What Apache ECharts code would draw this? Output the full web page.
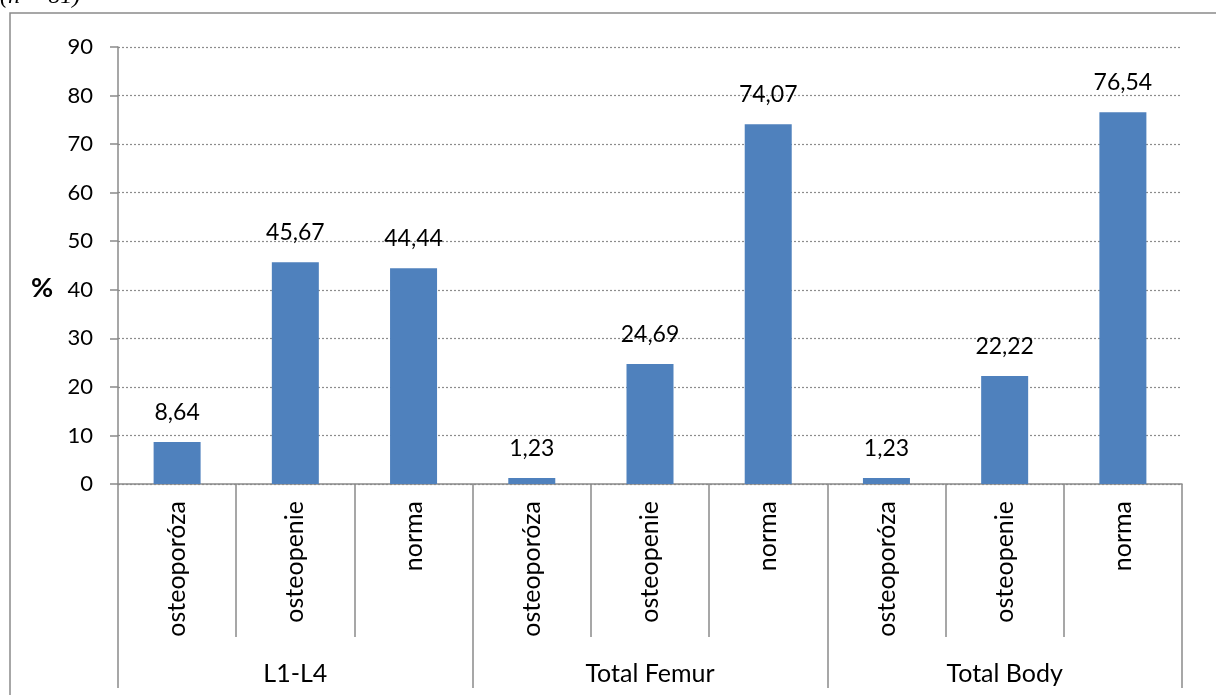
<!DOCTYPE html>
<html>
<head>
<meta charset="utf-8">
<style>
  html, body { margin: 0; padding: 0; background: #fff; }
  #chart { width: 1216px; height: 695px; }
</style>
<script src="https://cdn.jsdelivr.net/npm/echarts@6/dist/echarts.min.js"></script>
</head>
<body>
<div id="chart"></div>
<script>
// Bone density classification by measurement site (n = 81)
const groups = ['L1-L4', 'Total Femur', 'Total Body'];
const classes = ['osteoporóza', 'osteopenie', 'norma'];
const percentL1L4 = [8.64, 45.67, 44.44];
const percentFemur = [1.23, 24.69, 74.07];
const percentBody = [1.23, 22.22, 76.54];
const yTicks = [0, 10, 20, 30, 40, 50, 60, 70, 80, 90];

const subCategories = [];
groups.forEach(() => classes.forEach(c => subCategories.push(c)));
const values = [].concat(percentL1L4, percentFemur, percentBody);

const FONT = 'Lato, "Open Sans", sans-serif';
const AXIS_GREY = '#8a8a8a';

const chart = echarts.init(document.getElementById('chart'), null, { renderer: 'canvas' });

chart.setOption({
  animation: false,
  backgroundColor: '#fff',
  textStyle: { fontFamily: FONT },
  grid: { left: 118, right: 34, top: 47, bottom: 211, containLabel: false },
  graphic: [
    {
      type: 'rect',
      shape: { x: 10, y: 13, width: 1240, height: 720 },
      style: { fill: 'none', stroke: AXIS_GREY, lineWidth: 1.5 },
      silent: true
    },
    {
      // caption line above the frame, mostly clipped by the page top
      type: 'text',
      x: 0, y: -15,
      style: {
        text: '(n = 81)', font: 'italic 24px "Liberation Serif", serif', fill: '#000',
        align: 'left', verticalAlign: 'top'
      }
    },
    {
      type: 'text',
      x: 42, y: 288,
      style: { text: '%', font: 'bold 27px ' + FONT, fill: '#000', align: 'center', verticalAlign: 'middle' }
    }
  ],
  xAxis: [
    {
      type: 'category',
      data: subCategories,
      position: 'bottom',
      offset: 0,
      boundaryGap: true,
      axisLine: { show: true, lineStyle: { color: AXIS_GREY, width: 1.5 } },
      axisTick: { show: true, interval: 0, length: 153, lineStyle: { color: AXIS_GREY, width: 1.5 } },
      axisLabel: { interval: 0, rotate: 90, margin: 17, fontSize: 25, color: '#000', fontFamily: FONT },
      splitLine: { show: false }
    },
    {
      type: 'category',
      data: groups,
      position: 'bottom',
      offset: 0,
      boundaryGap: true,
      axisLine: { show: false },
      axisTick: { show: true, interval: 0, length: 204, lineStyle: { color: AXIS_GREY, width: 1.5 } },
      axisLabel: { interval: 0, margin: 177, fontSize: 25, color: '#000', fontFamily: FONT },
      splitLine: { show: false }
    }
  ],
  yAxis: {
    type: 'value',
    min: yTicks[0],
    max: yTicks[yTicks.length - 1],
    interval: 10,
    axisLine: { show: true, lineStyle: { color: AXIS_GREY, width: 1.5 } },
    axisTick: { show: true, inside: false, length: 8, lineStyle: { color: AXIS_GREY, width: 1.5 } },
    axisLabel: { margin: 25, fontSize: 22, color: '#000', fontFamily: FONT },
    splitLine: { show: true, lineStyle: { color: '#8c8c8c', width: 1.2, type: [2, 2] } }
  },
  series: [
    {
      type: 'bar',
      xAxisIndex: 0,
      yAxisIndex: 0,
      data: values,
      barWidth: 47,
      itemStyle: { color: '#4F81BD' },
      label: {
        show: true,
        position: 'top',
        distance: 18,
        fontSize: 23,
        color: '#000',
        fontFamily: FONT,
        formatter: p => p.value.toFixed(2).replace('.', ',')
      }
    }
  ]
});
</script>
</body>
</html>
